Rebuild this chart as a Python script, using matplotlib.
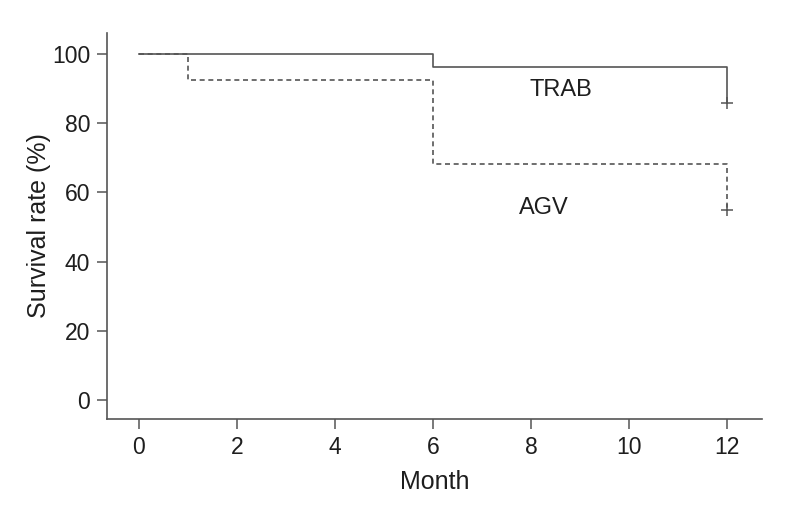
import numpy as np
import matplotlib.pyplot as plt

plt.rcParams['font.family'] = ['Liberation Sans', 'DejaVu Sans']

# Kaplan-Meier steps (month, survival %)
trab_month = [0, 6, 12]
trab_surv = [100, 96.4, 86.0]
agv_month = [0, 1, 6, 12]
agv_surv = [100, 92.6, 68.2, 54.9]
xticks = [0, 2, 4, 6, 8, 10, 12]
yticks = [0, 20, 40, 60, 80, 100]

col = '#555555'
txt = '#1e1e1e'

fig = plt.figure(figsize=(7.92, 5.11), dpi=100)
ax = fig.add_axes([107 / 792, 1 - 419 / 511, (762 - 107) / 792, (419 - 33) / 511])

ax.step(trab_month, trab_surv, where='post', color=col, lw=1.2)
ax.step(agv_month, agv_surv, where='post', color=col, lw=1.2, linestyle=(0, (3, 2.2)))
ax.plot([trab_month[-1]], [trab_surv[-1]], marker='+', ms=9, mew=1.1, color=col)
ax.plot([agv_month[-1]], [agv_surv[-1]], marker='+', ms=9, mew=1.1, color=col)

ax.text(8.6, 89.6, 'TRAB', fontsize=17, ha='center', va='center', color=txt)
ax.text(8.25, 55.5, 'AGV', fontsize=17, ha='center', va='center', color=txt)

ax.set_xlim(-0.65, 12.71)
ax.set_ylim(-5.5, 106.1)
ax.set_xticks(xticks)
ax.set_yticks(yticks)
ax.spines['top'].set_visible(False)
ax.spines['right'].set_visible(False)
for s in ['left', 'bottom']:
    ax.spines[s].set_color(col)
    ax.spines[s].set_linewidth(1.2)
ax.tick_params(direction='out', length=7, width=1.1, color=col,
               labelsize=16.5, labelcolor=txt, pad=5)
ax.set_xlabel('Month', fontsize=18, color=txt, labelpad=8)
ax.set_ylabel('Survival rate (%)', fontsize=18, color=txt, labelpad=1)

fig.savefig('out.png', dpi=100)
